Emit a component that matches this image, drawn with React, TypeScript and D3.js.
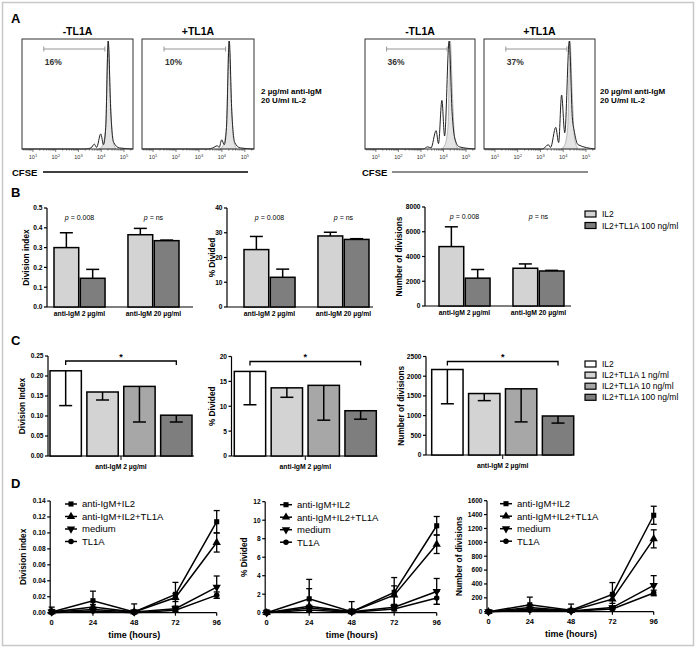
import React from "react";
import * as d3 from "d3";

const FONT = "'Liberation Sans', Arial, Helvetica, sans-serif";

// ---------------- Panel A : CFSE histograms ----------------
const histTitles = ["-TL1A", "+TL1A", "-TL1A", "+TL1A"];
const histPercents = ["16%", "10%", "36%", "37%"];
const leftConditionLines = ["2 µg/ml anti-IgM", "20 U/ml IL-2"];
const rightConditionLines = ["20 µg/ml anti-IgM", "20 U/ml IL-2"];
const cfseDecades = [1, 2, 3, 4, 5];
const cfseDomain = [3.3, 250000];
const dividedGate = [30, 14500];
// [CFSE intensity, relative count]
const hist1 = [[3.3, 0], [2000, 0], [3550, 0.01], [5000, 0.045], [6300, 0.015], [9550, 0.14], [12600, 0.04], [15800, 0.2], [20400, 1], [26300, 0.35], [35500, 0.06], [63000, 0.01], [250000, 0]];
const hist2 = [[3.3, 0], [2500, 0], [4000, 0.01], [6300, 0.03], [7600, 0.015], [9800, 0.085], [12600, 0.04], [15800, 0.2], [20900, 1], [26900, 0.35], [36300, 0.06], [63000, 0.01], [250000, 0]];
const hist3 = [[3.3, 0], [1260, 0], [2000, 0.02], [2800, 0.01], [4700, 0.17], [6000, 0.05], [8500, 0.45], [11200, 0.12], [17800, 1], [24000, 0.35], [31600, 0.1], [50000, 0.02], [250000, 0]];
const hist4 = [[3.3, 0], [1260, 0], [2200, 0.04], [2800, 0.015], [4700, 0.2], [6300, 0.06], [8500, 0.5], [11700, 0.15], [18600, 1], [25100, 0.3], [31600, 0.15], [44700, 0.04], [250000, 0]];
const controlHist = [[8000, 0], [11200, 0.03], [15800, 0.2], [20000, 1], [25100, 0.5], [31600, 0.1], [44700, 0]];

// ---------------- Panel B ----------------
const bGroups = ["anti-IgM 2 µg/ml", "anti-IgM 20 µg/ml"];
const bSeries = ["IL2", "IL2+TL1A 100 ng/ml"];
const bPValues = ["0.008", "ns"];
const bDivisionIndex = [[0.30, 0.145], [0.365, 0.335]];
const bDivisionIndexSD = [[0.075, 0.045], [0.032, 0.003]];
const bDivided = [[23.2, 12.0], [28.7, 27.3]];
const bDividedSD = [[5.3, 3.3], [1.5, 0.3]];
const bNumDivisions = [[4800, 2250], [3050, 2830]];
const bNumDivisionsSD = [[1600, 700], [350, 50]];
const bTicksDI = [0, 0.1, 0.2, 0.3, 0.4, 0.5];
const bTicksPct = [0, 10, 20, 30, 40];
const bTicksNum = [0, 2000, 4000, 6000, 8000];

// ---------------- Panel C ----------------
const cGroup = "anti-IgM 2 µg/ml";
const cSeries = ["IL2", "IL2+TL1A 1 ng/ml", "IL2+TL1A 10 ng/ml", "IL2+TL1A 100 ng/ml"];
const cDivisionIndex = [0.213, 0.160, 0.174, 0.102];
const cDivisionIndexSD = [0.087, 0.020, 0.089, 0.017];
const cDivided = [17.0, 13.7, 14.2, 9.1];
const cDividedSD = [6.7, 1.9, 7.0, 1.7];
const cNumDivisions = [2170, 1560, 1680, 990];
const cNumDivisionsSD = [870, 180, 840, 180];
const cTicksDI = [0, 0.05, 0.10, 0.15, 0.20, 0.25];
const cTicksPct = [0, 5, 10, 15, 20];
const cTicksNum = [0, 500, 1000, 1500, 2000, 2500];

// ---------------- Panel D ----------------
const dTimes = [0, 24, 48, 72, 96];
const dSeries = ["anti-IgM+IL2", "anti-IgM+IL2+TL1A", "medium", "TL1A"];
const dDivisionIndex = [
  [0.001, 0.015, 0.001, 0.023, 0.114],
  [0.001, 0.007, 0.001, 0.019, 0.088],
  [0.001, 0.004, 0.001, 0.005, 0.032],
  [0.000, 0.002, 0.000, 0.003, 0.022],
];
const dDivisionIndexSD = [
  [0.006, 0.012, 0.010, 0.015, 0.014],
  [0.003, 0.003, 0.002, 0.005, 0.012],
  [0.002, 0.002, 0.001, 0.003, 0.014],
  [0.001, 0.001, 0.001, 0.002, 0.004],
];
const dDivided = [
  [0, 1.5, 0.1, 2.2, 9.4],
  [0, 0.7, 0.1, 1.9, 7.4],
  [0, 0.5, 0.1, 0.6, 2.3],
  [0, 0.3, 0.05, 0.4, 1.6],
];
const dDividedSD = [
  [0.3, 2.1, 1.1, 1.6, 1.0],
  [0.1, 1.9, 0.3, 1.0, 1.0],
  [0.1, 0.3, 0.1, 0.2, 1.4],
  [0.05, 0.2, 0.05, 0.2, 0.7],
];
const dNumDivisions = [
  [0, 100, 20, 250, 1390],
  [0, 60, 15, 180, 1050],
  [0, 40, 10, 60, 380],
  [0, 20, 5, 40, 270],
];
const dNumDivisionsSD = [
  [10, 110, 90, 170, 130],
  [5, 40, 20, 60, 130],
  [5, 20, 10, 20, 140],
  [5, 10, 5, 10, 40],
];
const dTicksDI = [0, 0.02, 0.04, 0.06, 0.08, 0.10, 0.12, 0.14];
const dTicksPct = [0, 2, 4, 6, 8, 10, 12];
const dTicksNum = [0, 200, 400, 600, 800, 1000, 1200, 1400, 1600];

// ---------------- styles ----------------
const bColors = ["#d3d3d3", "#7e7e7e"];
const cColors = ["#ffffff", "#d3d3d3", "#a7a7a7", "#7e7e7e"];
const dSymbols = [d3.symbolSquare, d3.symbolTriangle, d3.symbolTriangle, d3.symbolCircle];
const dSymbolRot = [0, 0, 180, 0];
const dSymbolSize = [26, 30, 30, 24];

function Histogram({ left, top, width, height, data, title, pct }: any) {
  const x = d3.scaleLog().domain(cfseDomain).range([left, left + width]);
  const y = d3.scaleLinear().domain([0, 1]).range([top + height, top + 2]);
  const line = d3.line<number[]>().x((d) => x(d[0])).y((d) => y(d[1])).curve(d3.curveMonotoneX);
  const area = d3.area<number[]>().x((d) => x(d[0])).y0(y(0)).y1((d) => y(d[1])).curve(d3.curveMonotoneX);
  const minor: number[] = [];
  for (let e = 0; e <= 5; e++)
    for (let m = 1; m <= 9; m++) {
      const v = m * Math.pow(10, e);
      if (v > cfseDomain[0] && v < cfseDomain[1]) minor.push(v);
    }
  const b = top + height;
  const gy = top + 10;
  return (
    <g>
      <text x={left + width / 2} y={top - 4} textAnchor="middle" fontWeight="bold" fontSize={10.5}>{title}</text>
      <path d={area(controlHist) || ""} fill="#e4e4e4" stroke="#a0a0a0" strokeWidth={0.7} />
      <path d={line(data) || ""} fill="none" stroke="#222" strokeWidth={1} />
      <rect x={left} y={top} width={width} height={height} fill="none" stroke="#333" strokeWidth={1} />
      {minor.map((v, i) => {
        const major = cfseDecades.some((e) => Math.abs(v - Math.pow(10, e)) < 1e-6);
        return <line key={i} x1={x(v)} x2={x(v)} y1={b} y2={b + (major ? 3 : 1.6)} stroke="#333" strokeWidth={0.6} />;
      })}
      {cfseDecades.map((e) => (
        <text key={e} x={x(Math.pow(10, e))} y={b + 10} textAnchor="middle" fontSize={5.5} fill="#333">
          10<tspan dy={-2.5} fontSize={4}>{e}</tspan>
        </text>
      ))}
      <line x1={x(dividedGate[0])} x2={x(dividedGate[1])} y1={gy} y2={gy} stroke="#8a8a8a" strokeWidth={0.9} />
      <line x1={x(dividedGate[0])} x2={x(dividedGate[0])} y1={gy - 2.5} y2={gy + 2.5} stroke="#8a8a8a" strokeWidth={0.9} />
      <line x1={x(dividedGate[1])} x2={x(dividedGate[1])} y1={gy - 2.5} y2={gy + 2.5} stroke="#8a8a8a" strokeWidth={0.9} />
      <text x={x(dividedGate[0]) + 1} y={top + 26} fontSize={8.5} fontWeight="bold" fill="#333">{pct}</text>
    </g>
  );
}

function YAxis({ ax, y, ticks, fmt, title, titleX }: any) {
  const r = y.range();
  return (
    <g>
      <line x1={ax} x2={ax} y1={r[0]} y2={y(ticks[ticks.length - 1])} stroke="#000" strokeWidth={1.2} />
      {ticks.map((t: number) => (
        <g key={t}>
          <line x1={ax - 3} x2={ax} y1={y(t)} y2={y(t)} stroke="#000" strokeWidth={1.2} />
          <text x={ax - 4.5} y={y(t) + 2.4} textAnchor="end" fontSize={6.6} fontWeight="bold">{fmt(t)}</text>
        </g>
      ))}
      <text transform={`translate(${titleX},${(r[0] + r[1]) / 2}) rotate(-90)`} textAnchor="middle" dy="0.35em" fontSize={8.3} fontWeight="bold">{title}</text>
    </g>
  );
}

function GroupedBars({ ax, start, yBottom, yTop, max, ticks, fmt, values, sds, title, titleX }: any) {
  const y = d3.scaleLinear().domain([0, max]).range([yBottom, yTop]);
  const outer = d3.scaleBand<string>().domain(bGroups).range([ax + start, ax + start + 125]).paddingInner(0.31);
  const inner = d3.scaleBand<string>().domain(bSeries).range([0, outer.bandwidth()]).paddingInner(0.06);
  return (
    <g>
      <YAxis ax={ax} y={y} ticks={ticks} fmt={fmt} title={title} titleX={titleX} />
      <line x1={ax} x2={ax + 146} y1={yBottom} y2={yBottom} stroke="#000" strokeWidth={1.2} />
      {bGroups.map((g, gi) => {
        const gx = outer(g)!;
        const cx = gx + outer.bandwidth() / 2;
        return (
          <g key={g}>
            <text x={cx} y={yTop + 12} textAnchor="middle" fontSize={7}>
              <tspan fontStyle="italic">p</tspan> = {bPValues[gi]}
            </text>
            <text x={cx} y={yBottom + 9} textAnchor="middle" fontSize={6.8} fontWeight="bold">{g}</text>
            {bSeries.map((s, si) => {
              const v = values[gi][si];
              const sd = sds[gi][si];
              const bx = gx + inner(s)!;
              const bw = inner.bandwidth();
              const mx = bx + bw / 2;
              return (
                <g key={s}>
                  <line x1={mx} x2={mx} y1={y(v)} y2={y(v + sd)} stroke="#000" strokeWidth={1.5} />
                  <line x1={mx - 6.5} x2={mx + 6.5} y1={y(v + sd)} y2={y(v + sd)} stroke="#000" strokeWidth={1.5} />
                  <rect x={bx} y={y(v)} width={bw} height={yBottom - y(v)} fill={bColors[si]} stroke="#000" strokeWidth={1.5} />
                </g>
              );
            })}
          </g>
        );
      })}
    </g>
  );
}

function DoseBars({ ax, start, yBottom, yTop, max, ticks, fmt, values, sds, title, titleX }: any) {
  const y = d3.scaleLinear().domain([0, max]).range([yBottom, yTop]);
  const band = d3.scaleBand<string>().domain(cSeries).range([ax + start, ax + start + 142]).paddingInner(0.15);
  const c0 = band(cSeries[0])! + band.bandwidth() / 2;
  const c3 = band(cSeries[3])! + band.bandwidth() / 2;
  const mid = (band(cSeries[0])! + band(cSeries[3])! + band.bandwidth()) / 2;
  const by = yTop + 5;
  return (
    <g>
      <YAxis ax={ax} y={y} ticks={ticks} fmt={fmt} title={title} titleX={titleX} />
      <line x1={ax} x2={ax + 146} y1={yBottom} y2={yBottom} stroke="#000" strokeWidth={1.2} />
      <line x1={mid} x2={mid} y1={yBottom} y2={yBottom + 4} stroke="#000" strokeWidth={1} />
      <text x={mid} y={yBottom + 13} textAnchor="middle" fontSize={6.8} fontWeight="bold">{cGroup}</text>
      <path d={`M${c0},${by + 4}V${by}H${c3}V${by + 4}`} fill="none" stroke="#000" strokeWidth={1.3} />
      <text x={(c0 + c3) / 2} y={by - 1.5} textAnchor="middle" fontSize={9} fontWeight="bold">*</text>
      {cSeries.map((s, i) => {
        const v = values[i];
        const sd = sds[i];
        const bx = band(s)!;
        const bw = band.bandwidth();
        const mx = bx + bw / 2;
        return (
          <g key={s}>
            <rect x={bx} y={y(v)} width={bw} height={yBottom - y(v)} fill={cColors[i]} stroke="#000" strokeWidth={1.5} />
            <line x1={mx} x2={mx} y1={y(v)} y2={y(v - sd)} stroke="#000" strokeWidth={1.5} />
            <line x1={mx - 6.5} x2={mx + 6.5} y1={y(v - sd)} y2={y(v - sd)} stroke="#000" strokeWidth={1.5} />
          </g>
        );
      })}
    </g>
  );
}

function Marker({ x, y, i }: any) {
  const p = d3.symbol().type(dSymbols[i]).size(dSymbolSize[i])() || "";
  return <path d={p} transform={`translate(${x},${y}) rotate(${dSymbolRot[i]})`} fill="#000" />;
}

function TimeCourse({ x0, x1, yBottom, yTop, max, ticks, fmt, values, sds, title, titleX, legendX }: any) {
  const x = d3.scaleLinear().domain([0, 96]).range([x0, x1]);
  const y = d3.scaleLinear().domain([0, max]).range([yBottom, yTop]);
  const line = d3.line<number>().x((_, i) => x(dTimes[i])).y((d) => y(d));
  const ax = x0 - 1.5;
  return (
    <g>
      <YAxis ax={ax} y={y} ticks={ticks} fmt={fmt} title={title} titleX={titleX} />
      <line x1={ax} x2={x1} y1={yBottom} y2={yBottom} stroke="#000" strokeWidth={1.2} />
      {dTimes.map((t) => (
        <g key={t}>
          <line x1={x(t)} x2={x(t)} y1={yBottom} y2={yBottom + 3} stroke="#000" strokeWidth={1.2} />
          <text x={x(t)} y={yBottom + 12} textAnchor="middle" fontSize={7.5} fontWeight="bold">{t}</text>
        </g>
      ))}
      <text x={(x0 + x1) / 2} y={yBottom + 25} textAnchor="middle" fontSize={9} fontWeight="bold">time (hours)</text>
      {dSeries.map((s, si) => (
        <g key={s}>
          <path d={line(values[si]) || ""} fill="none" stroke="#000" strokeWidth={1.5} />
          {values[si].map((v: number, ti: number) => {
            const sd = sds[si][ti];
            const lo = y(Math.max(0, v - sd));
            const hi = y(v + sd);
            const cx = x(dTimes[ti]);
            return (
              <g key={ti}>
                <line x1={cx} x2={cx} y1={lo} y2={hi} stroke="#000" strokeWidth={1.3} />
                <line x1={cx - 3} x2={cx + 3} y1={hi} y2={hi} stroke="#000" strokeWidth={1.3} />
                {v - sd > 0 && <line x1={cx - 3} x2={cx + 3} y1={lo} y2={lo} stroke="#000" strokeWidth={1.3} />}
                <Marker x={cx} y={y(v)} i={si} />
              </g>
            );
          })}
        </g>
      ))}
      {dSeries.map((s, si) => {
        const ly = yTop + 3 + si * 12.5;
        return (
          <g key={s}>
            <line x1={legendX} x2={legendX + 12} y1={ly} y2={ly} stroke="#000" strokeWidth={1.5} />
            <Marker x={legendX + 6} y={ly} i={si} />
            <text x={legendX + 17} y={ly + 3.3} fontSize={9.5}>{s}</text>
          </g>
        );
      })}
    </g>
  );
}

function Legend({ x, y, labels, colors, step }: any) {
  return (
    <g>
      {labels.map((l: string, i: number) => (
        <g key={l}>
          <rect x={x} y={y + i * step - 3} width={11} height={6} fill={colors[i]} stroke="#000" strokeWidth={1.2} />
          <text x={x + 17} y={y + i * step + 3} fontSize={8.5}>{l}</text>
        </g>
      ))}
    </g>
  );
}

const f1 = (t: number) => t.toFixed(1);
const f2 = (t: number) => t.toFixed(2);
const f0 = (t: number) => String(t);

export default function App() {
  const hists = [hist1, hist2, hist3, hist4];
  const boxes = [
    { left: 22, width: 111 },
    { left: 142, width: 112 },
    { left: 365, width: 110 },
    { left: 484, width: 111 },
  ];
  return (
    <svg width={697} height={658} style={{ position: "absolute", left: 0, top: 0 }} fontFamily={FONT}>
      <rect x={0} y={0} width={697} height={658} fill="#fff" />
      <rect x={2.5} y={2.5} width={691} height={643} fill="none" stroke="#c8c8c8" strokeWidth={1.5} />

      {/* Panel letters */}
      <text x={11} y={23} fontSize={13} fontWeight="bold">A</text>
      <text x={11} y={197} fontSize={13} fontWeight="bold">B</text>
      <text x={11} y={345} fontSize={13} fontWeight="bold">C</text>
      <text x={11} y={488} fontSize={13} fontWeight="bold">D</text>

      {/* Panel A */}
      {hists.map((h, i) => (
        <Histogram key={i} left={boxes[i].left} top={39} width={boxes[i].width} height={110} data={h} title={histTitles[i]} pct={histPercents[i]} />
      ))}
      {leftConditionLines.map((l, i) => (
        <text key={l} x={261} y={94 + i * 9} fontSize={8} fontWeight="bold">{l}</text>
      ))}
      {rightConditionLines.map((l, i) => (
        <text key={l} x={600} y={94 + i * 9} fontSize={8} fontWeight="bold">{l}</text>
      ))}
      <text x={12} y={176} fontSize={9.5} fontWeight="bold">CFSE</text>
      <line x1={43} x2={248} y1={172} y2={172} stroke="#000" strokeWidth={1.5} />
      <text x={362} y={176} fontSize={9.5} fontWeight="bold">CFSE</text>
      <line x1={392} x2={588} y1={172} y2={172} stroke="#666" strokeWidth={1.5} />

      {/* Panel B */}
      <GroupedBars ax={47} start={7} yBottom={307} yTop={208} max={0.5} ticks={bTicksDI} fmt={f1} values={bDivisionIndex} sds={bDivisionIndexSD} title="Division index" titleX={26} />
      <GroupedBars ax={227} start={17} yBottom={307} yTop={208} max={40} ticks={bTicksPct} fmt={f0} values={bDivided} sds={bDividedSD} title="% Divided" titleX={212} />
      <GroupedBars ax={425} start={14} yBottom={306} yTop={207} max={8000} ticks={bTicksNum} fmt={f0} values={bNumDivisions} sds={bNumDivisionsSD} title="Number of divisions" titleX={399} />
      <Legend x={585} y={214} labels={bSeries} colors={bColors} step={11.5} />

      {/* Panel C */}
      <DoseBars ax={48} start={2} yBottom={456} yTop={356} max={0.25} ticks={cTicksDI} fmt={f2} values={cDivisionIndex} sds={cDivisionIndexSD} title="Division Index" titleX={22} />
      <DoseBars ax={231.5} start={2.8} yBottom={456} yTop={356.5} max={20} ticks={cTicksPct} fmt={f0} values={cDivided} sds={cDividedSD} title="% Divided" titleX={212} />
      <DoseBars ax={426} start={5.7} yBottom={455} yTop={356.5} max={2500} ticks={cTicksNum} fmt={f0} values={cNumDivisions} sds={cNumDivisionsSD} title="Number of divisions" titleX={401} />
      <Legend x={585} y={364} labels={cSeries} colors={cColors} step={11.1} />

      {/* Panel D */}
      <TimeCourse x0={51.7} x1={216.7} yBottom={612.7} yTop={501} max={0.14} ticks={dTicksDI} fmt={f2} values={dDivisionIndex} sds={dDivisionIndexSD} title="Division index" titleX={23} legendX={65} />
      <TimeCourse x0={266.7} x1={436.7} yBottom={612.7} yTop={501.7} max={12} ticks={dTicksPct} fmt={f0} values={dDivided} sds={dDividedSD} title="% Divided" titleX={244} legendX={280} />
      <TimeCourse x0={488.5} x1={653.7} yBottom={611.7} yTop={500.7} max={1600} ticks={dTicksNum} fmt={f0} values={dNumDivisions} sds={dNumDivisionsSD} title="Number of divisions" titleX={459} legendX={500} />
    </svg>
  );
}
